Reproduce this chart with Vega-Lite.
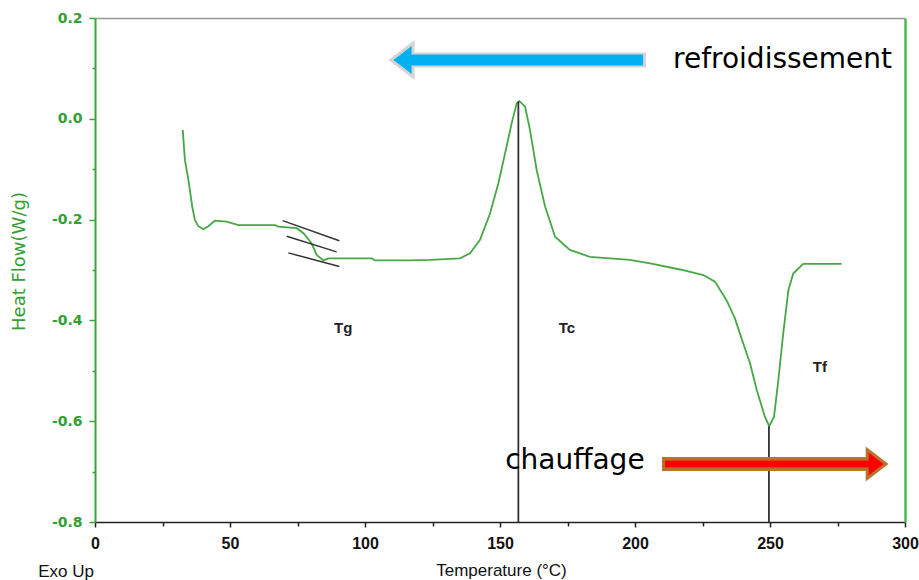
{
  "$schema": "https://vega.github.io/schema/vega-lite/v6.json",
  "width": 810,
  "height": 504,
  "autosize": {"type": "none"},
  "padding": {"left": 95, "top": 18, "right": 14, "bottom": 58},
  "background": "white",
  "config": {"view": {"stroke": null}},
  "datasets": {
    "curve": [
      {"x": 32.5, "y": -0.022}, {"x": 33.3, "y": -0.082}, {"x": 34.6, "y": -0.121}, {"x": 36.0, "y": -0.174},
      {"x": 37.0, "y": -0.201}, {"x": 38.3, "y": -0.213}, {"x": 40.1, "y": -0.219}, {"x": 42.0, "y": -0.213},
      {"x": 44.4, "y": -0.202}, {"x": 48.8, "y": -0.204}, {"x": 53.1, "y": -0.211}, {"x": 66.7, "y": -0.211},
      {"x": 67.9, "y": -0.214}, {"x": 74.7, "y": -0.217}, {"x": 77.2, "y": -0.227}, {"x": 80.2, "y": -0.247},
      {"x": 82.1, "y": -0.270}, {"x": 84.6, "y": -0.281}, {"x": 86.4, "y": -0.277}, {"x": 102.5, "y": -0.277},
      {"x": 103.7, "y": -0.281}, {"x": 116.7, "y": -0.281}, {"x": 124.1, "y": -0.280}, {"x": 135.2, "y": -0.277},
      {"x": 138.9, "y": -0.267}, {"x": 142.6, "y": -0.240}, {"x": 146.3, "y": -0.188}, {"x": 149.4, "y": -0.128},
      {"x": 151.9, "y": -0.068}, {"x": 154.3, "y": -0.009}, {"x": 156.2, "y": 0.031}, {"x": 157.2, "y": 0.035},
      {"x": 159.3, "y": 0.024}, {"x": 161.1, "y": -0.022}, {"x": 163.6, "y": -0.102}, {"x": 166.7, "y": -0.174},
      {"x": 170.4, "y": -0.234}, {"x": 175.9, "y": -0.260}, {"x": 183.3, "y": -0.274}, {"x": 198.1, "y": -0.280},
      {"x": 205.6, "y": -0.287}, {"x": 216.7, "y": -0.299}, {"x": 225.3, "y": -0.310}, {"x": 229.6, "y": -0.323},
      {"x": 233.9, "y": -0.360}, {"x": 237.0, "y": -0.396}, {"x": 240.1, "y": -0.446}, {"x": 242.6, "y": -0.485},
      {"x": 245.1, "y": -0.538}, {"x": 248.1, "y": -0.591}, {"x": 249.7, "y": -0.610}, {"x": 251.5, "y": -0.591},
      {"x": 253.1, "y": -0.518}, {"x": 254.9, "y": -0.426}, {"x": 256.8, "y": -0.340}, {"x": 258.6, "y": -0.307},
      {"x": 262.3, "y": -0.288}, {"x": 276.5, "y": -0.288}
    ],
    "tangents": [
      {"x": 69.5, "y": -0.202, "x2": 90.5, "y2": -0.242},
      {"x": 71.0, "y": -0.233, "x2": 89.5, "y2": -0.264},
      {"x": 71.6, "y": -0.266, "x2": 90.5, "y2": -0.293}
    ],
    "vlines": [
      {"x": 156.8, "y": 0.035, "y2": -0.8},
      {"x": 249.6, "y": -0.61, "y2": -0.8}
    ],
    "tlabels": [
      {"x": 91.9, "y": -0.415, "label": "Tg"},
      {"x": 174.8, "y": -0.415, "label": "Tc"},
      {"x": 268.5, "y": -0.492, "label": "Tf"}
    ],
    "bigtext": [
      {"x": 214.1, "y": 0.1008, "label": "refroidissement"},
      {"x": 151.9, "y": -0.695, "label": "chauffage"}
    ],
    "exo": [{"x": -10.7, "y": -0.909, "label": "Exo Up"}],
    "blueShaftOut": [{"x": 117.4, "x2": 204.1, "y": 0.1167}],
    "blueShaftIn": [{"x": 116.7, "x2": 203.0, "y": 0.1167}],
    "blueHead": [{"x": 115.9, "y": 0.1167}],
    "redShaftOut": [{"x": 210.0, "x2": 286.3, "y": -0.685}],
    "redShaftIn": [{"x": 211.1, "x2": 287.0, "y": -0.685}],
    "redHead": [{"x": 287.6, "y": -0.685}]
  },
  "resolve": {"axis": {"x": "independent", "y": "independent"}},
  "layer": [
    {
      "data": {"name": "curve"},
      "mark": {"type": "line", "color": "#45a845", "strokeWidth": 1.8},
      "encoding": {
        "x": {"field": "x", "type": "quantitative",
          "scale": {"domain": [0, 300], "nice": false, "zero": false},
          "axis": {"orient": "bottom", "values": [0, 50, 100, 150, 200, 250, 300], "format": "d",
            "domainColor": "#222", "domainWidth": 1.5, "tickColor": "#222", "tickSize": 5, "tickWidth": 1.5,
            "labelColor": "#111", "labelFont": "Liberation Sans", "labelFontSize": 16, "labelFontWeight": "bold",
            "labelFlush": false, "labelPadding": 8, "grid": false,
            "title": "Temperature (°C)", "titleFont": "Liberation Sans", "titleFontSize": 17, "titleFontWeight": "normal",
            "titleColor": "#111", "titleBaseline": "alphabetic", "titleX": 406, "titleY": 53}},
        "y": {"field": "y", "type": "quantitative",
          "scale": {"domain": [-0.8, 0.2], "nice": false, "zero": false},
          "axis": {"orient": "left", "values": [-0.8, -0.6, -0.4, -0.2, 0, 0.2],
            "labelExpr": "(datum.value < -0.0001 ? '-' : '') + format(abs(datum.value), '.1f')",
            "domainColor": "#3aa33a", "domainWidth": 2, "tickColor": "#3aa33a", "tickSize": 6, "tickWidth": 1.5,
            "labelColor": "#33a033", "labelFont": "DejaVu Sans", "labelFontSize": 14, "labelFontWeight": "bold",
            "labelPadding": 7, "labelFlush": false, "grid": false,
            "title": "Heat Flow(W/g)", "titleFont": "DejaVu Sans", "titleFontSize": 18, "titleFontWeight": "normal",
            "titleColor": "#33a033", "titleAlign": "center", "titleBaseline": "middle", "titleAngle": -90,
            "titleX": -76, "titleY": 243}}
      }
    },
    {
      "data": {"name": "tangents"},
      "mark": {"type": "rule", "color": "#333", "strokeWidth": 1.5},
      "encoding": {
        "x": {"field": "x", "type": "quantitative",
          "scale": {"domain": [0, 300], "nice": false, "zero": false},
          "axis": {"orient": "bottom", "values": [25, 75, 125, 175, 225, 275], "labels": false, "domain": false,
            "tickColor": "#222", "tickSize": 4, "tickWidth": 1.5, "grid": false, "title": null}},
        "y": {"field": "y", "type": "quantitative",
          "scale": {"domain": [-0.8, 0.2], "nice": false, "zero": false},
          "axis": {"orient": "left", "values": [-0.7, -0.5, -0.3, -0.1, 0.1], "labels": false, "domain": false,
            "tickColor": "#3aa33a", "tickSize": 3, "tickWidth": 1.5, "grid": false, "title": null}},
        "x2": {"field": "x2"},
        "y2": {"field": "y2"}
      }
    },
    {
      "data": {"name": "vlines"},
      "mark": {"type": "rule", "color": "#333", "strokeWidth": 1.8},
      "encoding": {
        "x": {"field": "x", "type": "quantitative",
          "scale": {"domain": [0, 300], "nice": false, "zero": false},
          "axis": {"orient": "top", "domainColor": "#999", "domainWidth": 1.5, "ticks": false, "labels": false,
            "grid": false, "title": null}},
        "y": {"field": "y", "type": "quantitative",
          "scale": {"domain": [-0.8, 0.2], "nice": false, "zero": false},
          "axis": {"orient": "right", "domainColor": "#4cb84c", "domainWidth": 2.5, "ticks": false, "labels": false,
            "grid": false, "title": null}},
        "y2": {"field": "y2"}
      }
    },
    {
      "data": {"name": "tlabels"},
      "mark": {"type": "text", "font": "Liberation Sans", "fontSize": 15, "fontWeight": "bold", "color": "#222",
        "align": "center", "baseline": "middle"},
      "encoding": {
        "x": {"field": "x", "type": "quantitative", "scale": {"domain": [0, 300], "nice": false, "zero": false}, "axis": null},
        "y": {"field": "y", "type": "quantitative", "scale": {"domain": [-0.8, 0.2], "nice": false, "zero": false}, "axis": null},
        "text": {"field": "label"}
      }
    },
    {
      "data": {"name": "exo"},
      "mark": {"type": "text", "font": "Liberation Sans", "fontSize": 17, "color": "#111",
        "align": "center", "baseline": "alphabetic"},
      "encoding": {
        "x": {"field": "x", "type": "quantitative", "scale": {"domain": [0, 300], "nice": false, "zero": false}, "axis": null},
        "y": {"field": "y", "type": "quantitative", "scale": {"domain": [-0.8, 0.2], "nice": false, "zero": false}, "axis": null},
        "text": {"field": "label"}
      }
    },
    {
      "data": {"name": "bigtext"},
      "mark": {"type": "text", "font": "DejaVu Sans", "fontSize": 28, "color": "#000",
        "align": "left", "baseline": "alphabetic"},
      "encoding": {
        "x": {"field": "x", "type": "quantitative", "scale": {"domain": [0, 300], "nice": false, "zero": false}, "axis": null},
        "y": {"field": "y", "type": "quantitative", "scale": {"domain": [-0.8, 0.2], "nice": false, "zero": false}, "axis": null},
        "text": {"field": "label"}
      }
    },
    {
      "data": {"name": "blueShaftOut"},
      "mark": {"type": "rule", "color": "#d4d4d4", "strokeWidth": 15, "strokeCap": "butt"},
      "encoding": {
        "x": {"field": "x", "type": "quantitative", "scale": {"domain": [0, 300], "nice": false, "zero": false}, "axis": null},
        "x2": {"field": "x2"},
        "y": {"field": "y", "type": "quantitative", "scale": {"domain": [-0.8, 0.2], "nice": false, "zero": false}, "axis": null}
      }
    },
    {
      "data": {"name": "blueHead"},
      "mark": {"type": "point", "shape": "M-1,0L0.3,-1L0.3,1Z", "size": 1156, "filled": true,
        "fill": "#00b0f0", "stroke": "#d4d4d4", "strokeWidth": 3, "opacity": 1},
      "encoding": {
        "x": {"field": "x", "type": "quantitative", "scale": {"domain": [0, 300], "nice": false, "zero": false}, "axis": null},
        "y": {"field": "y", "type": "quantitative", "scale": {"domain": [-0.8, 0.2], "nice": false, "zero": false}, "axis": null}
      }
    },
    {
      "data": {"name": "blueShaftIn"},
      "mark": {"type": "rule", "color": "#00b0f0", "strokeWidth": 11, "strokeCap": "butt"},
      "encoding": {
        "x": {"field": "x", "type": "quantitative", "scale": {"domain": [0, 300], "nice": false, "zero": false}, "axis": null},
        "x2": {"field": "x2"},
        "y": {"field": "y", "type": "quantitative", "scale": {"domain": [-0.8, 0.2], "nice": false, "zero": false}, "axis": null}
      }
    },
    {
      "data": {"name": "redShaftOut"},
      "mark": {"type": "rule", "color": "#b8732d", "strokeWidth": 14, "strokeCap": "butt"},
      "encoding": {
        "x": {"field": "x", "type": "quantitative", "scale": {"domain": [0, 300], "nice": false, "zero": false}, "axis": null},
        "x2": {"field": "x2"},
        "y": {"field": "y", "type": "quantitative", "scale": {"domain": [-0.8, 0.2], "nice": false, "zero": false}, "axis": null}
      }
    },
    {
      "data": {"name": "redHead"},
      "mark": {"type": "point", "shape": "M1,0L-0.3,-1L-0.3,1Z", "size": 841, "filled": true,
        "fill": "#ff0000", "stroke": "#b8732d", "strokeWidth": 3, "opacity": 1},
      "encoding": {
        "x": {"field": "x", "type": "quantitative", "scale": {"domain": [0, 300], "nice": false, "zero": false}, "axis": null},
        "y": {"field": "y", "type": "quantitative", "scale": {"domain": [-0.8, 0.2], "nice": false, "zero": false}, "axis": null}
      }
    },
    {
      "data": {"name": "redShaftIn"},
      "mark": {"type": "rule", "color": "#ff0000", "strokeWidth": 7, "strokeCap": "butt"},
      "encoding": {
        "x": {"field": "x", "type": "quantitative", "scale": {"domain": [0, 300], "nice": false, "zero": false}, "axis": null},
        "x2": {"field": "x2"},
        "y": {"field": "y", "type": "quantitative", "scale": {"domain": [-0.8, 0.2], "nice": false, "zero": false}, "axis": null}
      }
    }
  ]
}
